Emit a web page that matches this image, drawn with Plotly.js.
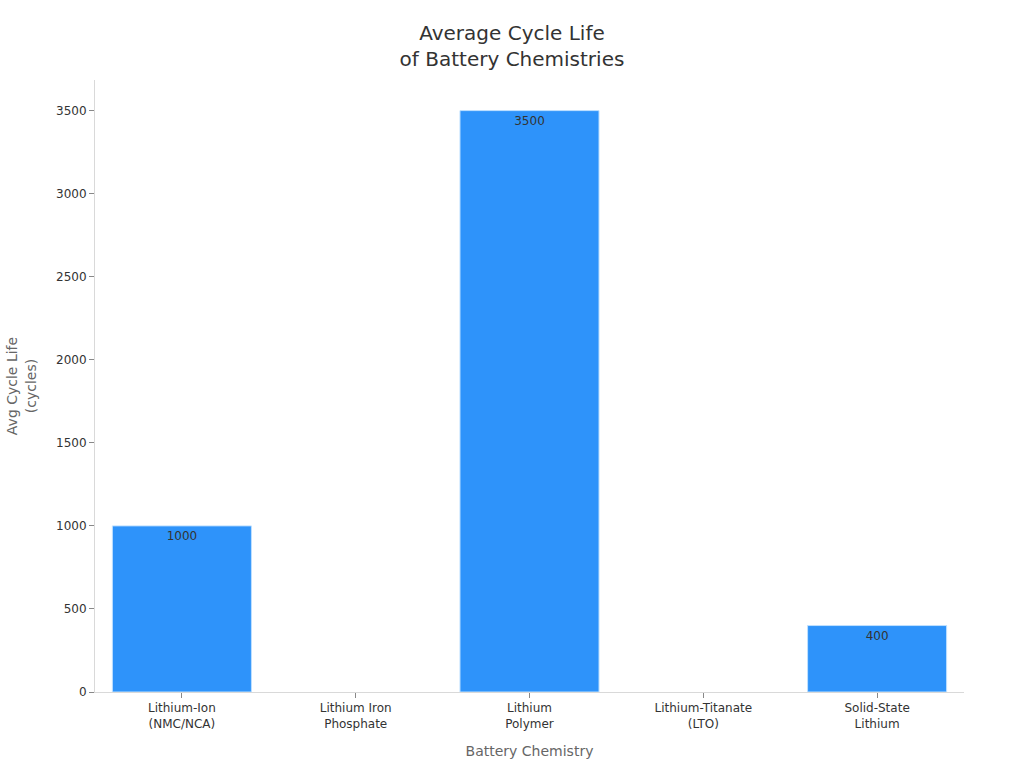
<!DOCTYPE html>
<html>
<head>
<meta charset="utf-8">
<script src="https://cdn.plot.ly/plotly-3.0.1.min.js"></script>
<style>html,body{margin:0;padding:0;background:#fff;}#chart{width:1024px;height:768px;}</style>
</head>
<body>
<div id="chart"></div>
<script>
var categories = ["Lithium-Ion<br>(NMC/NCA)", "Lithium Iron<br>Phosphate", "Lithium<br>Polymer", "Lithium-Titanate<br>(LTO)", "Solid-State<br>Lithium"];
var cycleLife = [1000, null, 3500, null, 400];
var labels = ["1000", "", "3500", "", "400"];

var trace = {
  type: "bar",
  x: categories,
  y: cycleLife,
  text: labels,
  textposition: "inside",
  insidetextanchor: "end",
  textfont: {family: "DejaVu Sans, sans-serif", size: 12, color: "#333333"},
  marker: {color: "#2E93FA", line: {color: "#BFE0FF", width: 1}},
  hoverinfo: "none"
};

var layout = {
  width: 1024, height: 768,
  paper_bgcolor: "#ffffff", plot_bgcolor: "#ffffff",
  margin: {l: 95, r: 60, t: 80, b: 76},
  bargap: 0.2,
  font: {family: "DejaVu Sans, sans-serif", size: 12, color: "#333333"},
  title: {text: "Average Cycle Life<br>of Battery Chemistries", x: 0.5, xanchor: "center", y: 0.948, yanchor: "top",
          font: {family: "DejaVu Sans, sans-serif", size: 20, color: "#333333"}},
  xaxis: {
    title: {text: "Battery Chemistry", font: {size: 14, color: "#666666"}, standoff: 16},
    showline: true, linecolor: "#d9d9d9", linewidth: 1,
    ticks: "outside", ticklen: 5, tickcolor: "#888888",
    tickfont: {size: 12, color: "#333333"},
    showgrid: false, zeroline: false
  },
  yaxis: {
    title: {text: "Avg Cycle Life<br>(cycles)", font: {size: 14, color: "#666666"}, standoff: 16},
    showline: true, linecolor: "#d9d9d9", linewidth: 1,
    ticks: "outside", ticklen: 5, tickcolor: "#888888",
    tickfont: {size: 12, color: "#333333"},
    showgrid: false, zeroline: false,
    dtick: 500, rangemode: "tozero"
  },
  showlegend: false
};

Plotly.newPlot("chart", [trace], layout, {displayModeBar: false, staticPlot: true});
</script>
</body>
</html>
